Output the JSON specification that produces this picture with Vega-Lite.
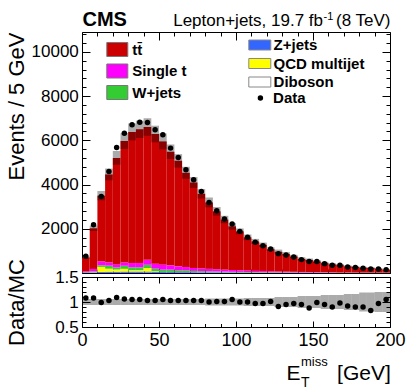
{
  "$schema": "https://vega.github.io/schema/vega-lite/v6.json",
  "padding": {"left": 4, "top": 9, "right": 5, "bottom": 5},
  "background": "white",
  "datasets": {
    "h": [
      {"x0":0,"x1":5,"xc":2.5,"p1_vv":2,"p2_zj":15,"p3_qcd":0,"p4_wj":15,"p5_st":40,"p6_tt":626,"data":754,"ratio":1.08,"lo":656,"hi":740,"rlo":0.94,"rhi":1.06},
      {"x0":5,"x1":10,"xc":7.5,"p1_vv":3,"p2_zj":25,"p3_qcd":10,"p4_wj":35,"p5_st":110,"p6_tt":1840,"data":2185,"ratio":1.08,"lo":1902,"hi":2144,"rlo":0.94,"rhi":1.06},
      {"x0":10,"x1":15,"xc":12.5,"p1_vv":5,"p2_zj":40,"p3_qcd":230,"p4_wj":75,"p5_st":180,"p6_tt":2968,"data":3463,"ratio":0.99,"lo":3288,"hi":3708,"rlo":0.94,"rhi":1.06},
      {"x0":15,"x1":20,"xc":17.5,"p1_vv":5,"p2_zj":55,"p3_qcd":130,"p4_wj":140,"p5_st":150,"p6_tt":3978,"data":4592,"ratio":1.03,"lo":4191,"hi":4725,"rlo":0.94,"rhi":1.06},
      {"x0":20,"x1":25,"xc":22.5,"p1_vv":5,"p2_zj":55,"p3_qcd":90,"p4_wj":100,"p5_st":140,"p6_tt":4816,"data":5675,"ratio":1.09,"lo":4894,"hi":5518,"rlo":0.94,"rhi":1.06},
      {"x0":25,"x1":30,"xc":27.5,"p1_vv":6,"p2_zj":60,"p3_qcd":120,"p4_wj":140,"p5_st":150,"p6_tt":5491,"data":6325,"ratio":1.06,"lo":5609,"hi":6325,"rlo":0.94,"rhi":1.06},
      {"x0":30,"x1":35,"xc":32.5,"p1_vv":6,"p2_zj":60,"p3_qcd":50,"p4_wj":140,"p5_st":195,"p6_tt":5930,"data":6700,"ratio":1.05,"lo":5998,"hi":6764,"rlo":0.94,"rhi":1.06},
      {"x0":35,"x1":40,"xc":37.5,"p1_vv":6,"p2_zj":60,"p3_qcd":50,"p4_wj":140,"p5_st":195,"p6_tt":6046,"data":6822,"ratio":1.05,"lo":6107,"hi":6887,"rlo":0.94,"rhi":1.06},
      {"x0":40,"x1":45,"xc":42.5,"p1_vv":7,"p2_zj":60,"p3_qcd":160,"p4_wj":150,"p5_st":225,"p6_tt":6004,"data":6804,"ratio":1.03,"lo":6210,"hi":7002,"rlo":0.94,"rhi":1.06},
      {"x0":45,"x1":50,"xc":47.5,"p1_vv":6,"p2_zj":50,"p3_qcd":20,"p4_wj":120,"p5_st":225,"p6_tt":5864,"data":6474,"ratio":1.03,"lo":5908,"hi":6662,"rlo":0.94,"rhi":1.06},
      {"x0":50,"x1":55,"xc":52.5,"p1_vv":6,"p2_zj":45,"p3_qcd":0,"p4_wj":100,"p5_st":225,"p6_tt":5575,"data":6249,"ratio":1.05,"lo":5594,"hi":6308,"rlo":0.94,"rhi":1.06},
      {"x0":55,"x1":60,"xc":57.5,"p1_vv":6,"p2_zj":45,"p3_qcd":0,"p4_wj":100,"p5_st":195,"p6_tt":5138,"data":5648,"ratio":1.03,"lo":5155,"hi":5813,"rlo":0.94,"rhi":1.06},
      {"x0":60,"x1":65,"xc":62.5,"p1_vv":6,"p2_zj":35,"p3_qcd":0,"p4_wj":80,"p5_st":180,"p6_tt":4771,"data":5224,"ratio":1.03,"lo":4768,"hi":5376,"rlo":0.94,"rhi":1.06},
      {"x0":65,"x1":70,"xc":67.5,"p1_vv":5,"p2_zj":35,"p3_qcd":0,"p4_wj":80,"p5_st":150,"p6_tt":4262,"data":4668,"ratio":1.03,"lo":4260,"hi":4804,"rlo":0.94,"rhi":1.06},
      {"x0":70,"x1":75,"xc":72.5,"p1_vv":5,"p2_zj":30,"p3_qcd":0,"p4_wj":60,"p5_st":130,"p6_tt":3869,"data":4217,"ratio":1.03,"lo":3848,"hi":4340,"rlo":0.94,"rhi":1.06},
      {"x0":75,"x1":80,"xc":77.5,"p1_vv":5,"p2_zj":25,"p3_qcd":0,"p4_wj":55,"p5_st":120,"p6_tt":3377,"data":3689,"ratio":1.03,"lo":3367,"hi":3797,"rlo":0.94,"rhi":1.06},
      {"x0":80,"x1":85,"xc":82.5,"p1_vv":5,"p2_zj":22,"p3_qcd":0,"p4_wj":50,"p5_st":110,"p6_tt":3005,"data":3192,"ratio":1.0,"lo":2969,"hi":3415,"rlo":0.93,"rhi":1.07},
      {"x0":85,"x1":90,"xc":87.5,"p1_vv":4,"p2_zj":20,"p3_qcd":0,"p4_wj":45,"p5_st":100,"p6_tt":2620,"data":2817,"ratio":1.01,"lo":2594,"hi":2984,"rlo":0.93,"rhi":1.07},
      {"x0":90,"x1":95,"xc":92.5,"p1_vv":4,"p2_zj":18,"p3_qcd":0,"p4_wj":40,"p5_st":90,"p6_tt":2266,"data":2442,"ratio":1.01,"lo":2249,"hi":2587,"rlo":0.93,"rhi":1.07},
      {"x0":95,"x1":100,"xc":97.5,"p1_vv":4,"p2_zj":15,"p3_qcd":0,"p4_wj":35,"p5_st":80,"p6_tt":1977,"data":2217,"ratio":1.05,"lo":1963,"hi":2259,"rlo":0.93,"rhi":1.07},
      {"x0":100,"x1":105,"xc":102.5,"p1_vv":4,"p2_zj":14,"p3_qcd":0,"p4_wj":32,"p5_st":72,"p6_tt":1761,"data":1883,"ratio":1.0,"lo":1751,"hi":2015,"rlo":0.93,"rhi":1.07},
      {"x0":105,"x1":110,"xc":107.5,"p1_vv":3,"p2_zj":12,"p3_qcd":0,"p4_wj":28,"p5_st":65,"p6_tt":1504,"data":1612,"ratio":1.0,"lo":1483,"hi":1741,"rlo":0.92,"rhi":1.08},
      {"x0":110,"x1":115,"xc":112.5,"p1_vv":3,"p2_zj":10,"p3_qcd":0,"p4_wj":25,"p5_st":58,"p6_tt":1333,"data":1386,"ratio":0.97,"lo":1315,"hi":1543,"rlo":0.92,"rhi":1.08},
      {"x0":115,"x1":120,"xc":117.5,"p1_vv":3,"p2_zj":9,"p3_qcd":0,"p4_wj":22,"p5_st":52,"p6_tt":1189,"data":1237,"ratio":0.97,"lo":1173,"hi":1377,"rlo":0.92,"rhi":1.08},
      {"x0":120,"x1":125,"xc":122.5,"p1_vv":3,"p2_zj":8,"p3_qcd":0,"p4_wj":20,"p5_st":46,"p6_tt":1000,"data":1088,"ratio":1.01,"lo":991,"hi":1163,"rlo":0.92,"rhi":1.08},
      {"x0":125,"x1":130,"xc":127.5,"p1_vv":3,"p2_zj":7,"p3_qcd":0,"p4_wj":18,"p5_st":40,"p6_tt":895,"data":876,"ratio":0.91,"lo":867,"hi":1059,"rlo":0.9,"rhi":1.1},
      {"x0":130,"x1":135,"xc":132.5,"p1_vv":2,"p2_zj":6,"p3_qcd":0,"p4_wj":16,"p5_st":36,"p6_tt":800,"data":817,"ratio":0.95,"lo":774,"hi":946,"rlo":0.9,"rhi":1.1},
      {"x0":135,"x1":140,"xc":137.5,"p1_vv":2,"p2_zj":6,"p3_qcd":0,"p4_wj":14,"p5_st":32,"p6_tt":695,"data":727,"ratio":0.97,"lo":674,"hi":824,"rlo":0.9,"rhi":1.1},
      {"x0":140,"x1":145,"xc":142.5,"p1_vv":2,"p2_zj":5,"p3_qcd":0,"p4_wj":12,"p5_st":28,"p6_tt":590,"data":605,"ratio":0.95,"lo":561,"hi":713,"rlo":0.88,"rhi":1.12},
      {"x0":145,"x1":150,"xc":147.5,"p1_vv":2,"p2_zj":5,"p3_qcd":0,"p4_wj":11,"p5_st":25,"p6_tt":542,"data":515,"ratio":0.88,"lo":515,"hi":655,"rlo":0.88,"rhi":1.12},
      {"x0":150,"x1":155,"xc":152.5,"p1_vv":2,"p2_zj":4,"p3_qcd":0,"p4_wj":10,"p5_st":22,"p6_tt":482,"data":515,"ratio":0.99,"lo":458,"hi":582,"rlo":0.88,"rhi":1.12},
      {"x0":155,"x1":160,"xc":157.5,"p1_vv":2,"p2_zj":4,"p3_qcd":0,"p4_wj":9,"p5_st":20,"p6_tt":411,"data":424,"ratio":0.95,"lo":384,"hi":508,"rlo":0.86,"rhi":1.14},
      {"x0":160,"x1":165,"xc":162.5,"p1_vv":2,"p2_zj":3,"p3_qcd":0,"p4_wj":8,"p5_st":18,"p6_tt":356,"data":348,"ratio":0.9,"lo":333,"hi":441,"rlo":0.86,"rhi":1.14},
      {"x0":165,"x1":170,"xc":167.5,"p1_vv":2,"p2_zj":3,"p3_qcd":0,"p4_wj":7,"p5_st":16,"p6_tt":327,"data":348,"ratio":0.98,"lo":305,"hi":405,"rlo":0.86,"rhi":1.14},
      {"x0":170,"x1":175,"xc":172.5,"p1_vv":1,"p2_zj":3,"p3_qcd":0,"p4_wj":6,"p5_st":14,"p6_tt":275,"data":275,"ratio":0.92,"lo":251,"hi":347,"rlo":0.84,"rhi":1.16},
      {"x0":175,"x1":180,"xc":177.5,"p1_vv":1,"p2_zj":2,"p3_qcd":0,"p4_wj":6,"p5_st":12,"p6_tt":250,"data":244,"ratio":0.9,"lo":228,"hi":314,"rlo":0.84,"rhi":1.16},
      {"x0":180,"x1":185,"xc":182.5,"p1_vv":1,"p2_zj":2,"p3_qcd":0,"p4_wj":5,"p5_st":11,"p6_tt":217,"data":212,"ratio":0.9,"lo":191,"hi":281,"rlo":0.81,"rhi":1.19},
      {"x0":185,"x1":190,"xc":187.5,"p1_vv":1,"p2_zj":2,"p3_qcd":0,"p4_wj":5,"p5_st":10,"p6_tt":205,"data":185,"ratio":0.83,"lo":181,"hi":265,"rlo":0.81,"rhi":1.19},
      {"x0":190,"x1":195,"xc":192.5,"p1_vv":1,"p2_zj":2,"p3_qcd":0,"p4_wj":4,"p5_st":9,"p6_tt":175,"data":185,"ratio":0.97,"lo":153,"hi":229,"rlo":0.8,"rhi":1.2},
      {"x0":195,"x1":200,"xc":197.5,"p1_vv":1,"p2_zj":2,"p3_qcd":0,"p4_wj":4,"p5_st":8,"p6_tt":131,"data":153,"ratio":1.05,"lo":117,"hi":175,"rlo":0.8,"rhi":1.2}
    ]
  },
  "bounds": "flush",
  "spacing": 4,
  "vconcat": [
    {
      "width": 308,
      "height": 241,
      "data": {"name": "h"},
      "resolve": {"axis": {"x": "independent", "y": "independent"}},
      "layer": [
        {
          "transform": [
            {"fold": ["p1_vv","p2_zj","p3_qcd","p4_wj","p5_st","p6_tt"], "as": ["proc","n"]},
            {"stack": "n", "groupby": ["x0"], "sort": [{"field": "proc", "order": "ascending"}], "as": ["s0","s1"]},
            {"filter": {"field": "proc", "oneOf": ["p4_wj","p5_st","p6_tt"]}}
          ],
          "mark": {"type": "rect"},
          "encoding": {
            "x": {"field": "x0", "type": "quantitative", "scale": {"domain": [0,200], "nice": false, "zero": false},
                  "axis": {"orient": "bottom", "values": [0,50,100,150,200], "labels": false, "tickSize": -8, "title": null}},
            "x2": {"field": "x1"},
            "y": {"field": "s0", "type": "quantitative", "scale": {"domain": [0,10900], "nice": false},
                  "axis": {"orient": "left", "values": [0,2000,4000,6000,8000,10000], "format": "d", "labelExpr": "datum.value == 0 ? '' : datum.label",
                           "tickSize": -8, "labelPadding": 11.7, "labelFontSize": 17,
                           "title": "Events / 5 GeV", "titleFontSize": 22, "titleFontWeight": "normal", "titleX": -59, "titleY": 0,
                           "titleAngle": 270, "titleAlign": "right", "titleBaseline": "alphabetic"}},
            "y2": {"field": "s1"},
            "fill": {"field": "proc", "type": "nominal",
                     "scale": {"domain": ["p6_tt","p5_st","p4_wj"], "range": ["#cc0000","#ff00ff","#33cc33"]},
                     "legend": {"orient": "none", "legendX": 27.8, "legendY": 10, "title": null,
                                "labelExpr": "datum.label == 'p6_tt' ? 'tt\u0304' : datum.label == 'p5_st' ? 'Single t' : 'W+jets'",
                                "symbolType": "M-1.5,-1H1.5V1H-1.5Z", "symbolSize": 196, "symbolStrokeColor": "#777", "symbolStrokeWidth": 1,
                                "labelFontSize": 15, "labelFontWeight": "bold", "labelOffset": 7.5, "rowPadding": 2.5}}
          }
        },
        {
          "transform": [
            {"fold": ["p1_vv","p2_zj","p3_qcd","p4_wj","p5_st","p6_tt"], "as": ["proc","n"]},
            {"stack": "n", "groupby": ["x0"], "sort": [{"field": "proc", "order": "ascending"}], "as": ["s0","s1"]},
            {"filter": {"field": "proc", "oneOf": ["p1_vv","p2_zj","p3_qcd"]}}
          ],
          "mark": {"type": "rect"},
          "encoding": {
            "x": {"field": "x0", "type": "quantitative", "scale": {"domain": [0,200], "nice": false, "zero": false},
                  "axis": {"orient": "top", "values": [0,50,100,150,200], "labels": false, "tickSize": -8,
                           "title": "CMS", "titleX": 0, "titleY": -7, "titleAlign": "left", "titleBaseline": "alphabetic", "titleAngle": 0,
                           "titleFontSize": 20, "titleFontWeight": "bold"}},
            "x2": {"field": "x1"},
            "y": {"field": "s0", "type": "quantitative", "scale": {"domain": [0,10900], "nice": false},
                  "axis": {"orient": "right", "values": [0,2000,4000,6000,8000,10000], "labels": false, "tickSize": -8,
                           "title": "-1", "titleX": -67, "titleY": -13, "titleAlign": "left", "titleBaseline": "alphabetic", "titleAngle": 0,
                           "titleFontSize": 11, "titleFontWeight": "normal"}},
            "y2": {"field": "s1"},
            "color": {"field": "proc", "type": "nominal",
                      "scale": {"domain": ["p2_zj","p3_qcd","p1_vv"], "range": ["#3366ff","#ffff00","#ffffff"]},
                      "legend": {"orient": "none", "legendX": 170.3, "legendY": 5.5, "title": null,
                                 "labelExpr": "datum.label == 'p2_zj' ? 'Z+jets' : datum.label == 'p3_qcd' ? 'QCD multijet' : 'Diboson'",
                                 "symbolType": "M-2.2,-1H2.2V1H-2.2Z", "symbolSize": 100, "symbolStrokeColor": "#888", "symbolStrokeWidth": 1,
                                 "labelFontSize": 15, "labelFontWeight": "bold", "labelOffset": 6.3, "rowPadding": 2.5}}
          }
        },
        {
          "mark": {"type": "rect", "color": "black", "opacity": 0.33},
          "encoding": {
            "x": {"field": "x0", "type": "quantitative", "scale": {"domain": [0,200], "nice": false, "zero": false},
                  "axis": {"orient": "bottom", "values": [10,20,30,40,60,70,80,90,110,120,130,140,160,170,180,190], "labels": false, "domain": false, "tickSize": -4, "title": null}},
            "x2": {"field": "x1"},
            "y": {"field": "lo", "type": "quantitative", "scale": {"domain": [0,10900], "nice": false},
                  "axis": {"orient": "left", "values": [400,800,1200,1600,2400,2800,3200,3600,4400,4800,5200,5600,6400,6800,7200,7600,8400,8800,9200,9600,10400,10800], "labels": false, "domain": false, "tickSize": -4, "title": null}},
            "y2": {"field": "hi"}
          }
        },
        {
          "mark": {"type": "point", "filled": true, "color": "black", "size": 30, "opacity": 1},
          "encoding": {
            "x": {"field": "xc", "type": "quantitative", "scale": {"domain": [0,200], "nice": false, "zero": false},
                  "axis": {"orient": "top", "values": [10,20,30,40,60,70,80,90,110,120,130,140,160,170,180,190], "labels": false, "domain": false, "tickSize": -4,
                           "title": "Lepton+jets, 19.7 fb", "titleX": 240.5, "titleY": -7, "titleAlign": "right", "titleBaseline": "alphabetic", "titleAngle": 0,
                           "titleFontSize": 17, "titleFontWeight": "normal"}},
            "y": {"field": "data", "type": "quantitative", "scale": {"domain": [0,10900], "nice": false},
                  "axis": {"orient": "right", "values": [400,800,1200,1600,2400,2800,3200,3600,4400,4800,5200,5600,6400,6800,7200,7600,8400,8800,9200,9600,10400,10800], "labels": false, "domain": false, "tickSize": -4,
                           "title": "(8 TeV)", "titleX": 0, "titleY": -7, "titleAlign": "right", "titleBaseline": "alphabetic", "titleAngle": 0,
                           "titleFontSize": 17, "titleFontWeight": "normal"}},
            "shape": {"datum": "Data", "type": "nominal", "scale": {"range": ["circle"]},
                      "legend": {"orient": "none", "legendX": 170.9, "legendY": 58.5, "title": null,
                                 "symbolSize": 30, "symbolFillColor": "black", "symbolStrokeColor": "black",
                                 "labelFontSize": 15, "labelFontWeight": "bold", "labelOffset": 5.2}}
          }
        }
      ]
    },
    {
      "width": 308,
      "height": 50,
      "data": {"name": "h"},
      "resolve": {"axis": {"x": "independent", "y": "independent"}},
      "layer": [
        {
          "mark": {"type": "rect", "color": "black", "opacity": 0.33},
          "encoding": {
            "x": {"field": "x0", "type": "quantitative", "scale": {"domain": [0,200], "nice": false, "zero": false},
                  "axis": {"orient": "bottom", "values": [0,50,100,150,200], "format": "d", "labelFontSize": 18, "tickSize": -6, "labelPadding": 10,
                           "title": "E", "titleX": 204, "titleY": 52, "titleAlign": "left", "titleBaseline": "alphabetic", "titleAngle": 0,
                           "titleFontSize": 21, "titleFontWeight": "normal"}},
            "x2": {"field": "x1"},
            "y": {"field": "rlo", "type": "quantitative", "scale": {"domain": [0.5,1.5], "nice": false, "zero": false},
                  "axis": {"orient": "left", "values": [0.5,1,1.5], "format": "~g", "labelFontSize": 17, "tickSize": -8, "labelPadding": 11.7,
                           "title": "Data/MC", "titleX": -59, "titleY": 25, "titleAlign": "center", "titleBaseline": "alphabetic", "titleAngle": 270,
                           "titleFontSize": 22, "titleFontWeight": "normal"}},
            "y2": {"field": "rhi"}
          }
        },
        {
          "mark": {"type": "point", "filled": true, "color": "black", "size": 30, "opacity": 1},
          "encoding": {
            "x": {"field": "xc", "type": "quantitative", "scale": {"domain": [0,200], "nice": false, "zero": false},
                  "axis": {"orient": "bottom", "values": [10,20,30,40,60,70,80,90,110,120,130,140,160,170,180,190], "labels": false, "domain": false, "tickSize": -3.5,
                           "title": "[GeV]", "titleX": 308.3, "titleY": 52, "titleAlign": "right", "titleBaseline": "alphabetic", "titleAngle": 0,
                           "titleFontSize": 21, "titleFontWeight": "normal"}},
            "y": {"field": "ratio", "type": "quantitative", "scale": {"domain": [0.5,1.5], "nice": false, "zero": false},
                  "axis": {"orient": "left", "values": [0.6,0.7,0.8,0.9,1.1,1.2,1.3,1.4], "labels": false, "domain": false, "tickSize": -4, "title": null}}
          }
        },
        {
          "mark": {"type": "point", "filled": true, "color": "black", "size": 30, "opacity": 0},
          "encoding": {
            "x": {"field": "xc", "type": "quantitative", "scale": {"domain": [0,200], "nice": false, "zero": false},
                  "axis": {"orient": "top", "values": [0,50,100,150,200], "labels": false, "tickSize": -6,
                           "title": "miss", "titleX": 218.5, "titleY": 88.4, "titleAlign": "left", "titleBaseline": "alphabetic", "titleAngle": 0,
                           "titleFontSize": 13, "titleFontWeight": "normal"}},
            "y": {"field": "ratio", "type": "quantitative", "scale": {"domain": [0.5,1.5], "nice": false, "zero": false},
                  "axis": {"orient": "right", "values": [0.5,1,1.5], "labels": false, "tickSize": -8, "title": null}}
          }
        },
        {
          "mark": {"type": "point", "filled": true, "color": "black", "size": 30, "opacity": 0},
          "encoding": {
            "x": {"field": "xc", "type": "quantitative", "scale": {"domain": [0,200], "nice": false, "zero": false},
                  "axis": {"orient": "top", "values": [10,20,30,40,60,70,80,90,110,120,130,140,160,170,180,190], "labels": false, "domain": false, "tickSize": -3.5,
                           "title": "T", "titleX": 218.5, "titleY": 109.4, "titleAlign": "left", "titleBaseline": "alphabetic", "titleAngle": 0,
                           "titleFontSize": 14, "titleFontWeight": "normal"}},
            "y": {"field": "ratio", "type": "quantitative", "scale": {"domain": [0.5,1.5], "nice": false, "zero": false},
                  "axis": {"orient": "right", "values": [0.6,0.7,0.8,0.9,1.1,1.2,1.3,1.4], "labels": false, "domain": false, "tickSize": -4, "title": null}}
          }
        }
      ]
    }
  ],
  "config": {
    "font": "Liberation Sans",
    "view": {"stroke": null},
    "axis": {"grid": false, "domainColor": "black", "tickColor": "black", "labelColor": "black", "titleColor": "black",
             "labelFont": "Liberation Sans", "titleFont": "Liberation Sans", "domainWidth": 1, "tickWidth": 1,
             "labelOverlap": false, "labelFlush": false, "labelBound": false},
    "legend": {"labelFont": "Liberation Sans", "labelColor": "black", "padding": 0}
  }
}
